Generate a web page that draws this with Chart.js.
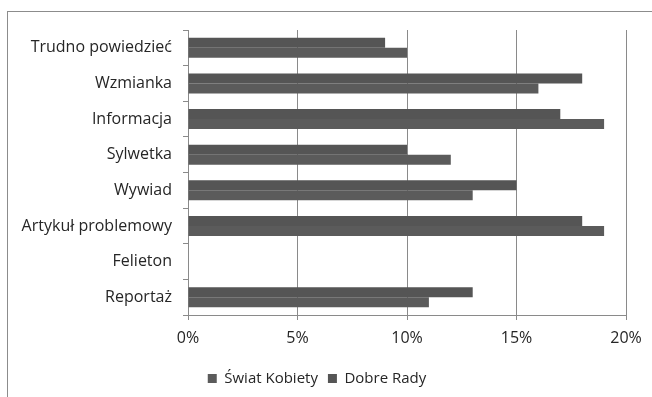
<!DOCTYPE html>
<html>
<head>
<meta charset="utf-8">
<script src="https://cdn.jsdelivr.net/npm/chart.js@4.4.1/dist/chart.umd.min.js"></script>
<style>
    html, body { margin: 0; padding: 0; background: #fff; overflow: hidden; }
    #wrap { position: relative; width: 652px; height: 397px; }
    #frame {
        position: absolute; left: 7px; top: 11px; width: 700px; height: 450px;
        border: 1px solid #8c8c8c; box-sizing: border-box;
    }
    canvas { position: absolute; left: 0; top: 0; }
</style>
</head>
<body>
<div id="wrap">
    <div id="frame"></div>
    <canvas id="chart" width="652" height="397"></canvas>
</div>
<script>
// Kategorie od góry do dołu
const categories = ['Trudno powiedzieć', 'Wzmianka', 'Informacja', 'Sylwetka', 'Wywiad', 'Artykuł problemowy', 'Felieton', 'Reportaż'];

// Wartości w %
const swiatKobiety = [10, 16, 19, 12, 13, 19, 0, 11];
const dobreRady = [9, 18, 17, 10, 15, 18, 0, 13];

const xTicks = [0, 5, 10, 15, 20];

const FONT = "'Open Sans', sans-serif";

new Chart(document.getElementById('chart'), {
    type: 'bar',
    data: {
        labels: categories,
        datasets: [
            {
                label: 'Dobre Rady',
                data: dobreRady,
                backgroundColor: '#555555',
                categoryPercentage: 0.56,
                barPercentage: 1.0
            },
            {
                label: 'Świat Kobiety',
                data: swiatKobiety,
                backgroundColor: '#5b5b5b',
                categoryPercentage: 0.56,
                barPercentage: 1.0
            }
        ]
    },
    options: {
        indexAxis: 'y',
        responsive: false,
        animation: false,
        layout: { padding: { left: 8, right: 26, top: 30, bottom: 1 } },
        scales: {
            x: {
                min: 0,
                max: 20,
                afterBuildTicks: (axis) => { axis.ticks = xTicks.map(v => ({ value: v })); },
                afterFit: (s) => { s.height = 46; },
                grid: { color: '#8a8a8a', tickLength: 5, drawTicks: true },
                border: { color: '#8a8a8a' },
                ticks: {
                    color: '#262626',
                    font: { family: FONT, size: 16 },
                    padding: 9,
                    callback: (v) => v + '%'
                }
            },
            y: {
                afterFit: (s) => { s.width = 180; },
                grid: { drawOnChartArea: false, drawTicks: true, tickLength: 5, offset: true, color: '#8a8a8a' },
                border: { color: '#8a8a8a' },
                ticks: {
                    color: '#262626',
                    font: { family: FONT, size: 16 },
                    padding: 11
                }
            }
        },
        plugins: {
            legend: {
                position: 'bottom',
                reverse: true,
                labels: {
                    color: '#262626',
                    font: { family: FONT, size: 15 },
                    boxWidth: 9,
                    boxHeight: 9,
                    padding: 10
                }
            },
            tooltip: { enabled: false }
        }
    }
});
</script>
</body>
</html>
